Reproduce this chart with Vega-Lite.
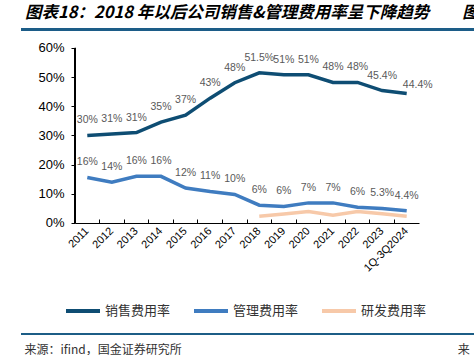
{
  "$schema": "https://vega.github.io/schema/vega-lite/v6.json",
  "padding": {"left": 20, "top": 5, "right": 0, "bottom": 0},
  "width": 456,
  "height": 305,
  "config": {
    "view": {"stroke": null},
    "font": "Liberation Sans"
  },
  "title": {
    "text": "图表18：2018 年以后公司销售&管理费用率呈下降趋势　　图",
    "anchor": "start",
    "frame": "group",
    "dx": 4,
    "font": "Noto Sans CJK SC",
    "fontSize": 16.5,
    "fontStyle": "italic",
    "fontWeight": "bold",
    "color": "#000000",
    "offset": 7
  },
  "data": {
    "values": [
      {"year": "2011", "series": "销售费用率", "value": 30.0, "label": "30%"},
      {"year": "2012", "series": "销售费用率", "value": 30.5, "label": "31%"},
      {"year": "2013", "series": "销售费用率", "value": 31.0, "label": "31%"},
      {"year": "2014", "series": "销售费用率", "value": 34.6, "label": "35%"},
      {"year": "2015", "series": "销售费用率", "value": 37.0, "label": "37%"},
      {"year": "2016", "series": "销售费用率", "value": 42.8, "label": "43%"},
      {"year": "2017", "series": "销售费用率", "value": 48.1, "label": "48%"},
      {"year": "2018", "series": "销售费用率", "value": 51.5, "label": "51.5%"},
      {"year": "2019", "series": "销售费用率", "value": 50.8, "label": "51%"},
      {"year": "2020", "series": "销售费用率", "value": 50.8, "label": "51%"},
      {"year": "2021", "series": "销售费用率", "value": 48.2, "label": "48%"},
      {"year": "2022", "series": "销售费用率", "value": 48.2, "label": "48%"},
      {"year": "2023", "series": "销售费用率", "value": 45.4, "label": "45.4%"},
      {"year": "1Q-3Q2024", "series": "销售费用率", "value": 44.4, "label": "44.4%"},
      {"year": "2011", "series": "管理费用率", "value": 15.6, "label": "16%"},
      {"year": "2012", "series": "管理费用率", "value": 14.0, "label": "14%"},
      {"year": "2013", "series": "管理费用率", "value": 16.0, "label": "16%"},
      {"year": "2014", "series": "管理费用率", "value": 16.0, "label": "16%"},
      {"year": "2015", "series": "管理费用率", "value": 12.0, "label": "12%"},
      {"year": "2016", "series": "管理费用率", "value": 10.8, "label": "11%"},
      {"year": "2017", "series": "管理费用率", "value": 9.8, "label": "10%"},
      {"year": "2018", "series": "管理费用率", "value": 6.1, "label": "6%"},
      {"year": "2019", "series": "管理费用率", "value": 5.7, "label": "6%"},
      {"year": "2020", "series": "管理费用率", "value": 6.9, "label": "7%"},
      {"year": "2021", "series": "管理费用率", "value": 6.9, "label": "7%"},
      {"year": "2022", "series": "管理费用率", "value": 5.4, "label": "6%"},
      {"year": "2023", "series": "管理费用率", "value": 5.0, "label": "5.3%"},
      {"year": "1Q-3Q2024", "series": "管理费用率", "value": 4.2, "label": "4.4%"},
      {"year": "2018", "series": "研发费用率", "value": 2.3, "label": ""},
      {"year": "2019", "series": "研发费用率", "value": 3.1, "label": ""},
      {"year": "2020", "series": "研发费用率", "value": 3.9, "label": ""},
      {"year": "2021", "series": "研发费用率", "value": 2.7, "label": ""},
      {"year": "2022", "series": "研发费用率", "value": 3.9, "label": ""},
      {"year": "2023", "series": "研发费用率", "value": 3.2, "label": ""},
      {"year": "1Q-3Q2024", "series": "研发费用率", "value": 2.3, "label": ""}
    ]
  },
  "resolve": {"scale": {"x": "independent"}},
  "layer": [
    {
      "encoding": {
        "x": {
          "field": "year",
          "type": "nominal",
          "sort": null,
          "scale": {"type": "band", "paddingInner": 0, "paddingOuter": 0, "range": [54, 398]},
          "axis": {
            "offset": -111,
            "bandPosition": 0,
            "labelAngle": -45,
            "labelAlign": "right",
            "labelBaseline": "middle",
            "labelFontSize": 11,
            "labelColor": "#000000",
            "labelPadding": 10,
            "tickSize": -4,
            "tickColor": "#000000",
            "domainColor": "#000000",
            "grid": false,
            "title": "来源：ifind，国金证券研究所　　　　　　　　　　　　　　　　　　　　　　　来",
            "titleX": 3,
            "titleY": 126,
            "titleAnchor": "start",
            "titleAlign": "left",
            "titleBaseline": "middle",
            "titleFont": "Noto Sans CJK SC",
            "titleFontSize": 12,
            "titleFontWeight": "normal",
            "titleColor": "#333333"
          }
        }
      },
      "layer": [
        {
          "mark": {"type": "line", "strokeWidth": 3.5},
          "encoding": {
            "y": {
              "field": "value",
              "type": "quantitative",
              "scale": {"domain": [-38.057, 66.514], "nice": false, "zero": false},
              "axis": {
                "title": null,
                "orient": "left",
                "offset": -54,
                "values": [0, 10, 20, 30, 40, 50, 60],
                "labelExpr": "datum.value + '%'",
                "labelFontSize": 13,
                "labelColor": "#000000",
                "labelPadding": 7,
                "tickSize": 4,
                "tickColor": "#000000",
                "domain": false,
                "grid": false
              }
            },
            "color": {
              "field": "series",
              "type": "nominal",
              "sort": null,
              "scale": {
                "domain": ["销售费用率", "管理费用率", "研发费用率"],
                "range": ["#0E4D73", "#3F7CC0", "#F7C9A9"]
              },
              "legend": {
                "title": null,
                "orient": "none",
                "direction": "horizontal",
                "legendX": 43,
                "legendY": 263,
                "padding": 0,
                "symbolType": "stroke",
                "symbolSize": 1156,
                "symbolStrokeWidth": 4,
                "labelFont": "Noto Sans CJK SC",
                "labelFontSize": 13,
                "labelColor": "#333333",
                "labelOffset": 3,
                "columnPadding": 15
              }
            }
          }
        },
        {
          "transform": [{"filter": "datum.series !== '研发费用率' && !(datum.series === '销售费用率' && datum.year === '1Q-3Q2024')"}],
          "mark": {"type": "text", "dy": -15, "fontSize": 10.5, "color": "#595959"},
          "encoding": {
            "y": {"field": "value", "type": "quantitative"},
            "text": {"field": "label"}
          }
        },
        {
          "transform": [{"filter": "datum.series === '销售费用率' && datum.year === '1Q-3Q2024'"}],
          "mark": {"type": "text", "dx": 11, "dy": -8, "fontSize": 10.5, "color": "#595959"},
          "encoding": {
            "y": {"field": "value", "type": "quantitative"},
            "text": {"field": "label"}
          }
        },
        {
          "mark": {"type": "rule", "color": "#000000", "strokeWidth": 1},
          "encoding": {
            "x": {"datum": "2011", "bandPosition": 0},
            "y": {"datum": 0, "type": "quantitative"},
            "y2": {"datum": 60}
          }
        }
      ]
    },
    {
      "mark": {"type": "rule", "color": "#1D5E86", "strokeWidth": 1.5},
      "encoding": {
        "x": {"datum": 0, "type": "quantitative", "scale": {"domain": [0, 1]}, "axis": null},
        "x2": {"datum": 1},
        "y": {"datum": -38.057, "type": "quantitative"}
      }
    },
    {
      "mark": {"type": "rule", "color": "#1D5E86", "strokeWidth": 1.5},
      "encoding": {
        "x": {"datum": 0, "type": "quantitative", "scale": {"domain": [0, 1]}, "axis": null},
        "x2": {"datum": 1},
        "y": {"datum": 66.35, "type": "quantitative"}
      }
    }
  ]
}
